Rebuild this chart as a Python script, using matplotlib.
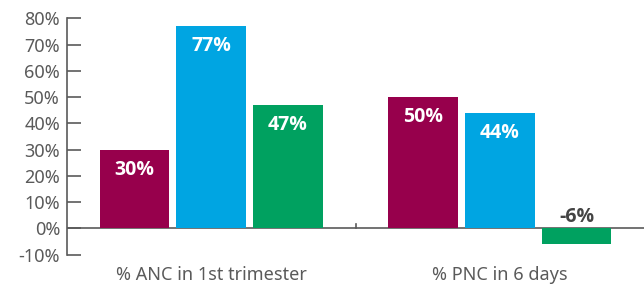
import matplotlib
matplotlib.use("Agg")
import matplotlib.pyplot as plt
import numpy as np

categories = ["% ANC in 1st trimester", "% PNC in 6 days"]
series_a = [30, 77, 47]   # first group: maroon, blue, green
series_b = [50, 44, -6]   # second group
colors = ["#97004c", "#00a5e2", "#00a160"]
yticks = [-10, 0, 10, 20, 30, 40, 50, 60, 70, 80]

plt.rcParams['font.family'] = ['Noto Sans', 'DejaVu Sans']
grey = '#5a5a5a'
bold_font = ['Open Sans', 'DejaVu Sans']

fig = plt.figure(figsize=(6.44, 2.87), dpi=100)
ax = fig.add_axes([67 / 644, 1 - 254.6 / 287, 1 - 67 / 644, (254.6 - 18.3) / 287])

width = 0.242
step = 0.266
values = np.array([series_a, series_b])
x = np.arange(len(categories))
for i in range(3):
    xs = x + (i - 1) * step
    vals = values[:, i]
    ax.bar(xs, vals, width=width, color=colors[i], zorder=2)
    for xv, v in zip(xs, vals):
        if v >= 0:
            # label sits inside the bar, near its top
            ax.text(xv, v - 7.6, f"{v}%", ha='center', va='center', color='white',
                    fontsize=14, fontweight='bold', family=bold_font, zorder=3)
        else:
            ax.text(xv, 0.6, f"{v}%", ha='center', va='bottom', color='#444444',
                    fontsize=14, fontweight='bold', family=bold_font, zorder=3)

# zero line and category separator tick
ax.axhline(0, color=grey, linewidth=1.2, zorder=1)
ax.plot([0.5, 0.5], [0, 1.8], color=grey, linewidth=1.2, zorder=1)

ax.set_xlim(-0.5, 1.5)
ax.set_ylim(-10, 80)
ax.set_yticks(yticks)
ax.set_yticklabels([f"{t}%" for t in yticks])
ax.set_xticks(x)
ax.set_xticklabels(categories)

for s in ['top', 'right', 'bottom']:
    ax.spines[s].set_visible(False)
ax.spines['left'].set_color(grey)
ax.spines['left'].set_linewidth(1.2)
ax.tick_params(axis='y', direction='in', length=10, width=1.2, color=grey,
               labelcolor=grey, labelsize=13, pad=5)
ax.tick_params(axis='x', length=0, labelcolor=grey, labelsize=13, pad=8)

fig.savefig("out.png", dpi=100)
